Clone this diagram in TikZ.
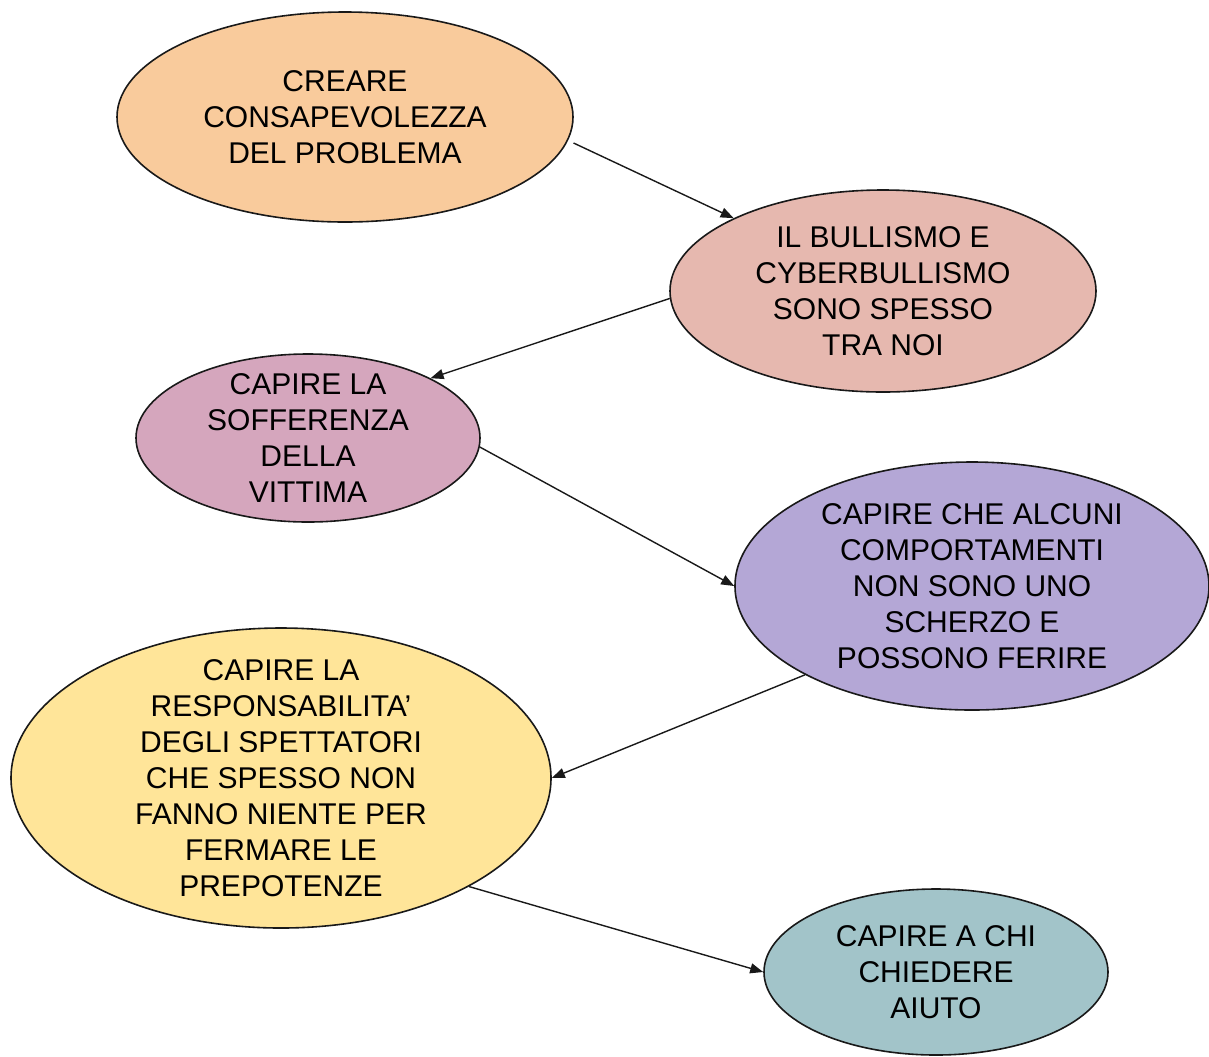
\documentclass[tikz,border=0pt]{standalone}
\usepackage{fontspec}
\setmainfont{Liberation Sans}
\usetikzlibrary{arrows.meta}
\usetikzlibrary{shapes.geometric}

\definecolor{peach}{HTML}{F9CB9C}
\definecolor{rose}{HTML}{E6B8AF}
\definecolor{mauve}{HTML}{D5A6BD}
\definecolor{lilac}{HTML}{B4A7D6}
\definecolor{straw}{HTML}{FFE599}
\definecolor{teal}{HTML}{A2C4C9}

\begin{document}
\begin{tikzpicture}[x=0.5pt, y=-0.5pt,
    bubble/.style={ellipse, draw=black!90, line width=0.8pt, inner sep=0pt},
    txt/.style={align=center, font=\fontsize{15}{18}\selectfont, inner sep=0pt},
    link/.style={-{Triangle[length=6.5pt,width=5pt]}, line width=0.7pt, black!90}]
    \useasboundingbox (0,0) rectangle (1209,1056);

    \node (aware) [bubble, fill=peach, minimum width=228pt, minimum height=105pt,
      label={[txt]center:CREARE\\CONSAPEVOLEZZA\\DEL PROBLEMA}] at (345,117) {};
    \node (bully) [bubble, fill=rose, minimum width=213pt, minimum height=101pt,
      label={[txt]center:IL BULLISMO E\\CYBERBULLISMO\\SONO SPESSO\\TRA NOI}] at (883,291) {};
    \node (pain) [bubble, fill=mauve, minimum width=172pt, minimum height=84pt,
      label={[txt]center:CAPIRE LA\\SOFFERENZA\\DELLA\\VITTIMA}] at (308,438) {};
    \node (harm) [bubble, fill=lilac, minimum width=237pt, minimum height=124pt,
      label={[txt]center:CAPIRE CHE ALCUNI\\COMPORTAMENTI\\NON SONO UNO\\SCHERZO E\\POSSONO FERIRE}] at (972,586) {};
    \node (watchers) [bubble, fill=straw, minimum width=270pt, minimum height=150pt,
      label={[txt]center:CAPIRE LA\\RESPONSABILITA’\\DEGLI SPETTATORI\\CHE SPESSO NON\\FANNO NIENTE PER\\FERMARE LE\\PREPOTENZE}] at (281,778) {};
    \node (help) [bubble, fill=teal, minimum width=172pt, minimum height=83pt,
      label={[txt]center:CAPIRE A CHI\\CHIEDERE\\AIUTO}] at (936,972) {};

    \draw [link, shorten <=3pt] (aware.-6) -- (bully.154);
    \draw [link] (bully.182) -- (pain.26);
    \draw [link] (pain.-3) -- (harm.180);
    \draw [link] (harm.-152) -- (watchers.0);
    \draw [link] (watchers.-30) -- (help.180);
\end{tikzpicture}
\end{document}
